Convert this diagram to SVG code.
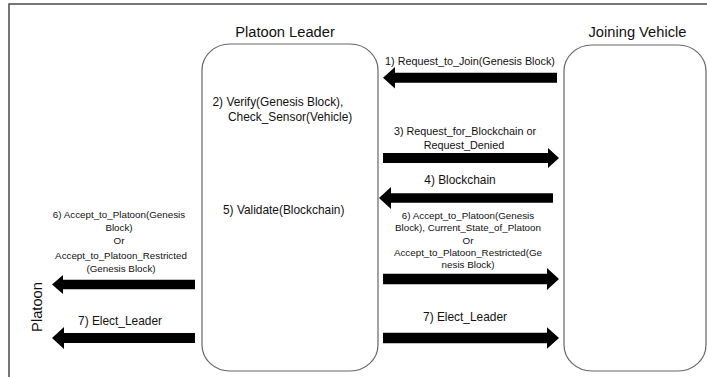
<svg xmlns="http://www.w3.org/2000/svg" width="707" height="377" viewBox="0 0 707 377">
  <style>
    .frame { fill: #ffffff; stroke: #555555; stroke-width: 1.6; }
    .box { fill: #ffffff; stroke: #666666; stroke-width: 1.2; }
    .title { font-family: "Liberation Sans", Arial, sans-serif; font-size: 14.7px; fill: #111111; }
    .lbl { font-family: "Liberation Sans", Arial, sans-serif; fill: #111111; }
    .s10 { font-size: 9.8px; }
    .s11 { font-size: 10.8px; }
    .s12 { font-size: 11.9px; }
    .mid { text-anchor: middle; }
    .arrow { fill: #000000; }
  </style>

  <!-- outer border -->
  <rect class="frame" x="9" y="4" width="720" height="400"/>

  <g id="platoon">
    <text class="title" transform="translate(42,307) rotate(-90)" text-anchor="middle" font-size="15.5">Platoon</text>
  </g>

  <g id="platoon-leader">
    <text class="title mid" x="285" y="37">Platoon Leader</text>
    <rect class="box" x="202" y="44" width="176" height="327" rx="28" ry="26"/>
    <text class="lbl s12" x="212.5" y="105.5">2) Verify(Genesis Block),</text>
    <text class="lbl s12" x="228" y="121">Check_Sensor(Vehicle)</text>
    <text class="lbl s12" x="223" y="213.5">5) Validate(Blockchain)</text>
  </g>

  <g id="joining-vehicle">
    <text class="title mid" x="637.5" y="37" font-size="15.3">Joining Vehicle</text>
    <rect class="box" x="564" y="45" width="142" height="326" rx="28" ry="26"/>
  </g>

  <g id="connectors">
    <!-- 1) join request -->
    <path class="arrow" d="M557 72.7 H395 V66.9 L383 77.7 L395 88.5 V82.7 H557 Z"/>
    <text class="lbl s11 mid" x="470" y="64.5">1) Request_to_Join(Genesis Block)</text>

    <!-- 3) blockchain request -->
    <path class="arrow" d="M383 153 H548 V148 L559 158 L548 168 V163 H383 Z"/>
    <text class="lbl s11 mid" x="465" y="135">3) Request_for_Blockchain or</text>
    <text class="lbl s11 mid" x="464" y="148.5">Request_Denied</text>

    <!-- 4) blockchain -->
    <path class="arrow" d="M553 193.3 H391 V187 L379 198 L391 209 V202.7 H553 Z"/>
    <text class="lbl s12 mid" x="460" y="183.5">4) Blockchain</text>

    <!-- 6) acceptance to joining vehicle -->
    <path class="arrow" d="M383 273.7 H547 V268 L559 279 L547 290 V284.3 H383 Z"/>
    <text class="lbl s10 mid" x="468" y="218.8">6) Accept_to_Platoon(Genesis</text>
    <text class="lbl s10 mid" x="468" y="231.2">Block), Current_State_of_Platoon</text>
    <text class="lbl s10 mid" x="468" y="243.6">Or</text>
    <text class="lbl s10 mid" x="468" y="256">Accept_to_Platoon_Restricted(Ge</text>
    <text class="lbl s10 mid" x="468" y="268.4">nesis Block)</text>

    <!-- 7) election to joining vehicle -->
    <path class="arrow" d="M383 332.7 H547 V327.3 L559 338 L547 348.7 V343.3 H383 Z"/>
    <text class="lbl s12 mid" x="465" y="321">7) Elect_Leader</text>

    <!-- 6) acceptance to platoon -->
    <path class="arrow" d="M195 279.7 H63 V275 L52 284.5 L63 294 V289.3 H195 Z"/>
    <text class="lbl s10 mid" x="119" y="218">6) Accept_to_Platoon(Genesis</text>
    <text class="lbl s10 mid" x="119" y="231">Block)</text>
    <text class="lbl s10 mid" x="119" y="244">Or</text>
    <text class="lbl s10 mid" x="121" y="258.5">Accept_to_Platoon_Restricted</text>
    <text class="lbl s10 mid" x="121" y="272">(Genesis Block)</text>

    <!-- 7) election to platoon -->
    <path class="arrow" d="M195 333 H64 V327 L52 338 L64 349 V343 H195 Z"/>
    <text class="lbl s12 mid" x="120" y="324.5">7) Elect_Leader</text>
  </g>
</svg>
